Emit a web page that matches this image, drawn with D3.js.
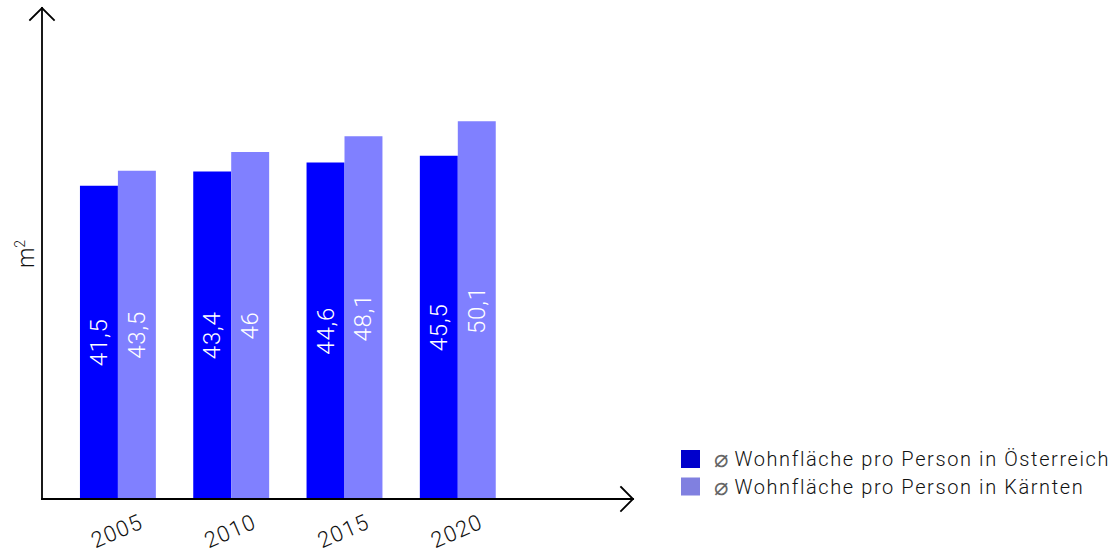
<!DOCTYPE html>
<html>
<head>
<meta charset="utf-8">
<script src="https://cdn.jsdelivr.net/npm/d3@7"></script>
<style>
  html, body { margin: 0; padding: 0; background: #fff; }
  svg { display: block; }
  text { font-family: Roboto, "Liberation Sans", Arial, sans-serif; font-weight: 300; }
  .sym { font-family: "DejaVu Sans"; font-weight: 200; }
</style>
</head>
<body>
<svg id="chart" width="1117" height="553"></svg>
<script>
// Average living space per person (m²)
const years = ["2005", "2010", "2015", "2020"];
const seriesNames = [
  "Wohnfläche pro Person in Österreich",
  "Wohnfläche pro Person in Kärnten"
];
const seriesPrefix = "⌀";
const austria = [41.5, 43.4, 44.6, 45.5];
const carinthia = [43.5, 46, 48.1, 50.1];
const unitBase = "m";
const unitExp = "2";

const barColors = ["#0000ff", "#8080ff"];
const legendColors = ["#0000cc", "#8080e0"];

const svg = d3.select("#chart");
const fmt = v => String(v).replace(".", ",");

const axisX = 42, axisY = 499;

const x = d3.scaleBand()
  .domain(years)
  .range([axisX, 533.7])
  .paddingInner(0.33)
  .paddingOuter(0.335);

const xSeries = d3.scaleBand()
  .domain([0, 1])
  .range([0, x.bandwidth()]);

const y = d3.scaleLinear().domain([0, 65]).range([497, 9.5]);

const rows = years.map((yr, i) => ({ year: yr, values: [austria[i], carinthia[i]] }));

// Bars
const groups = svg.append("g").selectAll("g")
  .data(rows).join("g")
  .attr("transform", d => `translate(${x(d.year)},0)`);

groups.selectAll("rect")
  .data(d => d.values.map((v, k) => ({ v, k })))
  .join("rect")
  .attr("x", d => xSeries(d.k))
  .attr("width", xSeries.bandwidth())
  .attr("y", d => y(d.v))
  .attr("height", d => axisY - y(d.v))
  .attr("fill", d => barColors[d.k]);

// Value labels inside bars, rotated
groups.selectAll("text.val")
  .data(d => d.values.map((v, k) => ({ v, k })))
  .join("text")
  .attr("class", "val")
  .attr("transform", d => `translate(${xSeries(d.k) + xSeries.bandwidth() / 2},${(y(d.v) + y(0)) / 2 + 1}) rotate(-90)`)
  .attr("text-anchor", "middle")
  .attr("dominant-baseline", "central")
  .attr("fill", "#fff")
  .style("font-size", "24px")
  .style("letter-spacing", "0.8px")
  .text(d => fmt(d.v));

// Axes with arrowheads
const axes = svg.append("g")
  .attr("stroke", "#000")
  .attr("stroke-width", 1.8)
  .attr("fill", "none")
  .attr("stroke-linecap", "square");

axes.append("line").attr("x1", axisX).attr("y1", axisY).attr("x2", axisX).attr("y2", 8);
axes.append("path").attr("d", `M${axisX - 12},${20} L${axisX},${8} L${axisX + 12},${20}`);
axes.append("line").attr("x1", axisX).attr("y1", axisY).attr("x2", 633).attr("y2", axisY);
axes.append("path").attr("d", `M${621},${axisY - 12} L${633},${axisY} L${621},${axisY + 12}`);

// Year labels
svg.append("g").selectAll("text")
  .data(years).join("text")
  .attr("transform", d => `translate(${x(d) + x.bandwidth() / 2 - 1},531) rotate(-23)`)
  .attr("text-anchor", "middle")
  .attr("dominant-baseline", "central")
  .attr("fill", "#111")
  .style("font-size", "22px")
  .style("letter-spacing", "1.2px")
  .text(d => d);

// Unit label
const unit = svg.append("text")
  .attr("transform", "translate(34,254) rotate(-90)")
  .attr("text-anchor", "middle")
  .attr("fill", "#111")
  .style("font-size", "23px");
unit.append("tspan").text(unitBase);
unit.append("tspan").attr("dy", -9).style("font-size", "14px").text(unitExp);

// Legend
const legend = svg.append("g").selectAll("g")
  .data(seriesNames).join("g")
  .attr("transform", (d, i) => `translate(681,${450 + i * 27.5})`);

legend.append("rect")
  .attr("width", 19).attr("height", 18)
  .attr("fill", (d, i) => legendColors[i]);

const lt = legend.append("text")
  .attr("x", 33).attr("y", 16)
  .attr("fill", "#111")
  .style("font-size", "20px")
  .style("letter-spacing", "1.6px");
lt.append("tspan").attr("class", "sym").attr("fill", "#666").style("font-size", "24px").style("letter-spacing", "0px").attr("dy", 1).text(seriesPrefix);
lt.append("tspan").attr("dy", -1).text(d => " " + d);
</script>
</body>
</html>
